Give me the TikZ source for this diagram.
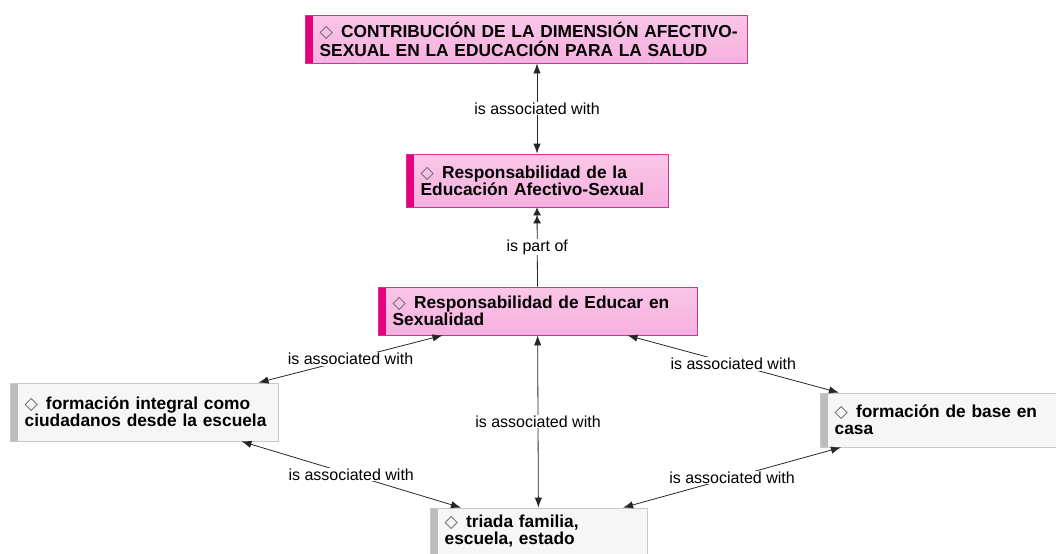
\documentclass[tikz,border=0pt]{standalone}
\usepackage{fontspec}
\setmainfont{Liberation Sans}
\newfontfamily\symfont{DejaVu Sans}
\usetikzlibrary{arrows.meta}

\definecolor{pinktop}{RGB}{250,198,232}
\definecolor{pinkfill}{RGB}{246,176,222}
\definecolor{pinkline}{RGB}{212,48,150}
\definecolor{pinkbar}{RGB}{230,0,126}
\definecolor{grayfill}{RGB}{246,246,246}
\definecolor{grayline}{RGB}{200,200,200}
\definecolor{graybar}{RGB}{188,188,188}

\newcommand{\dia}{{\symfont\mdseries\fontsize{13}{13}\selectfont\color{black!60}\char"25C7}\hspace{6pt}}

\tikzset{
	concept/.style={draw, rectangle, align=left, inner xsep=0pt, inner ysep=1pt, line width=0.6pt,
		font=\fontsize{13}{12.8}\selectfont\bfseries,
		execute at begin node={\leftskip=11pt\rightskip=-40pt plus 1fil}},
	pinkbox/.style={concept, top color=pinktop, bottom color=pinkfill, draw=pinkline,
		path picture={\fill[pinkbar] (path picture bounding box.north west) rectangle ([xshift=6pt]path picture bounding box.south west);}},
	graybox/.style={concept, fill=grayfill, draw=grayline,
		path picture={\fill[graybar] (path picture bounding box.north west) rectangle ([xshift=6pt]path picture bounding box.south west);}},
	rel/.style={draw=black!85, line width=0.6pt, {Latex[length=7.5pt,width=5.5pt]}-{Latex[length=7.5pt,width=5.5pt]}},
	partof/.style={draw=black!85, line width=0.6pt, -{Latex[length=6pt,width=6pt]Latex[length=6pt,width=6pt]}},
	lbl/.style={font=\fontsize{12}{12}\selectfont, fill=white, inner sep=0.5pt}
}

\begin{document}
\begin{tikzpicture}[x=0.75pt, y=-0.75pt]
	\useasboundingbox (0,0) rectangle (1056,553);
	%Contribucion
	\node[pinkbox, text width=331.5pt, minimum height=36pt] (top) at (526,39)
		{\dia CONTRIBUCIÓN DE LA DIMENSIÓN AFECTIVO-\\SEXUAL EN LA EDUCACIÓN PARA LA SALUD};
	%Responsabilidad EAS
	\node[pinkbox, text width=196.5pt, minimum height=39.75pt] (resp) at (537,180.5)
		{\dia Responsabilidad de la\\Educación Afectivo-Sexual};
	%Responsabilidad de Educar
	\node[pinkbox, text width=239.25pt, minimum height=36pt] (educar) at (537.5,311)
		{\dia Responsabilidad de Educar en\\Sexualidad};
	%Formacion integral
	\node[graybox, text width=201pt, minimum height=43.5pt] (integral) at (144,412)
		{\dia formación integral como\\ciudadanos desde la escuela};
	%Formacion de base
	\node[graybox, text width=180pt, minimum height=40.5pt] (casa) at (940,420)
		{\dia formación de base en\\casa};
	%Triada
	\node[graybox, text width=162.75pt, minimum height=34.5pt] (triada) at (538.5,531)
		{\dia triada familia,\\escuela, estado};

	%Relations
	\draw[rel] (top.south -| resp.north) -- (resp.north) node[lbl, midway] {is associated with};
	\draw[partof] (educar.north) -- (resp.south) node[lbl, midway] {is part of};
	\draw[rel] (educar) -- (integral) node[lbl, midway] {is associated with};
	\draw[rel] (educar) -- (casa) node[lbl, midway] {is associated with};
	\draw[rel] (educar) -- (triada) node[lbl, midway] {is associated with};
	\draw[rel] (integral) -- (triada) node[lbl, midway] {is associated with};
	\draw[rel] (casa) -- (triada) node[lbl, midway] {is associated with};
\end{tikzpicture}
\end{document}
